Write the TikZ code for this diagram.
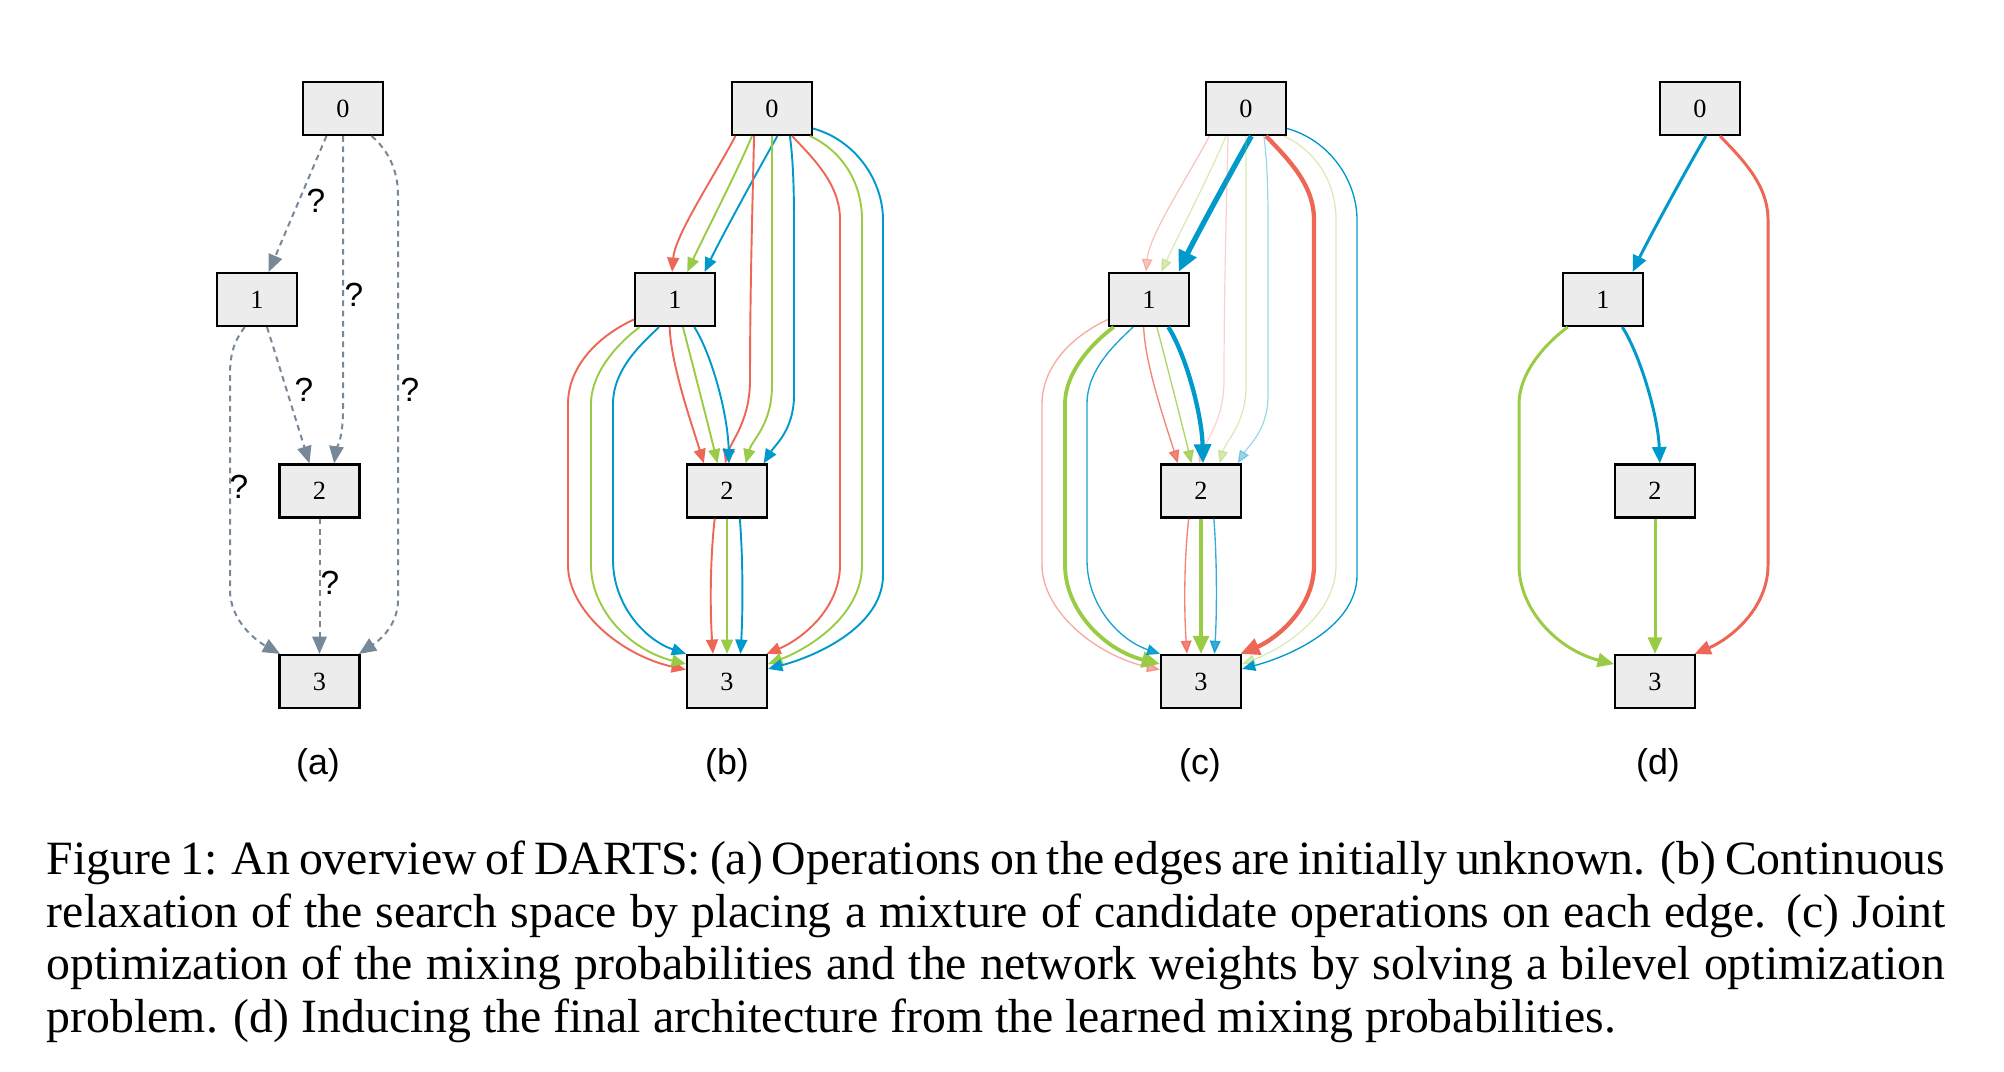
\documentclass[tikz,border=0pt]{standalone}
\usepackage{fontspec}
\setmainfont{Liberation Serif}
\setsansfont{Liberation Sans}
\usetikzlibrary{arrows.meta}

\definecolor{opred}{RGB}{238,102,85}
\definecolor{opgreen}{RGB}{153,204,68}
\definecolor{opblue}{RGB}{0,153,204}
\definecolor{qgray}{RGB}{119,136,153}
\definecolor{boxgray}{RGB}{236,236,236}

\tikzset{
    opnode/.style={draw, line width=0.45pt, fill=boxgray, minimum width=16.75pt, minimum height=11.1pt, inner sep=0pt, font=\fontsize{5.5}{6}\selectfont},
    opedge/.style={line width=0.4pt, -{Triangle[length=2.2pt 2, width=1.7pt 2]}},
    rop/.style={opedge, draw=opred},
    gop/.style={opedge, draw=opgreen},
    bop/.style={opedge, draw=opblue},
    weakop/.style={opacity=0.4, line width=0.25pt},
    lightop/.style={opacity=#1, line width=0.28pt},
    lightop/.default=0.8,
    strongop/.style={line width=#1},
    finalop/.style={line width=0.62pt},
    qedge/.style={draw=qgray, line width=0.42pt, dash pattern=on 1.2pt off 0.95pt, -{Triangle[length=3.6pt, width=3pt]}},
    qlabel/.style={font=\sffamily\fontsize{7}{8}\selectfont, inner sep=0pt},
    panellabel/.style={font=\sffamily\fontsize{7.5}{9}\selectfont, inner sep=0pt},
}

\begin{document}
\begin{tikzpicture}[x=0.2094pt, y=0.2094pt]
    \useasboundingbox (0,0) rectangle (2004,-1072);

    % (a)
    \node[opnode] (a0) at (343,-108.5) {0};
    \node[opnode] (a1) at (257,-299.5) {1};
    \node[opnode] (a2) at (319.5,-491) {2};
    \node[opnode] (a3) at (319.5,-681.5) {3};

    \draw[qedge] (a0.-121) -- (a1.67);
    \draw[qedge] (a0.-90) -- (343,-410) .. controls (343,-440) and (336,-450) .. (a2.62);
    \draw[qedge] (a0.-44) .. controls (388,-150) and (398,-170) .. (398,-195) -- (398,-600) .. controls (398,-625) and (380,-640) .. (a3.35);
    \draw[qedge] (a1.-70) -- (a2.110);
    \draw[qedge] (a1.-114) .. controls (235,-340) and (230,-352) .. (230,-375) -- (230,-590) .. controls (230,-620) and (255,-640) .. (a3.145);
    \draw[qedge] (a2.-90) -- (a3.90);

    \node[qlabel] (q01) at (316,-201) {?};
    \node[qlabel] (q02) at (354,-295) {?};
    \node[qlabel] (q03) at (410,-390) {?};
    \node[qlabel] (q12) at (304,-390) {?};
    \node[qlabel] (q13) at (239,-487) {?};
    \node[qlabel] (q23) at (330,-583) {?};

    \node[panellabel] (la) at (318,-765) {(a)};

    % (b)
    \node[opnode] (b0) at (772,-108.5) {0};
    \node[opnode] (b1) at (675,-299.5) {1};
    \node[opnode] (b2) at (727,-491) {2};
    \node[opnode] (b3) at (727,-681.5) {3};

    \draw[rop] (b0.-143) .. controls (715,-175) and (675,-235) .. (b1.96);
    \draw[gop] (b0.-126) .. controls (738,-170) and (702,-240) .. (b1.66);
    \draw[bop] (b0.-79) .. controls (758,-170) and (720,-240) .. (b1.43);

    \draw[rop] (b0.-123) .. controls (752,-220) and (750,-300) .. (750,-380) .. controls (750,-420) and (732,-440) .. (b2.94);
    \draw[gop] (b0.-90) -- (772,-385) .. controls (772,-425) and (752,-440) .. (b2.56);
    \draw[bop] (b0.-57) .. controls (793,-160) and (794,-185) .. (794,-225) -- (794,-395) .. controls (794,-430) and (775,-445) .. (b2.37);

    \draw[rop] (b0.-54) .. controls (815,-160) and (840,-185) .. (840,-220) -- (840,-565) .. controls (840,-610) and (800,-640) .. (b3.35);
    \draw[gop] (b0.-36) .. controls (840,-150) and (862,-180) .. (862,-220) -- (862,-565) .. controls (862,-615) and (810,-648) .. (b3.23);
    \draw[bop] (b0.-26) .. controls (855,-140) and (883,-180) .. (883,-220) -- (883,-575) .. controls (883,-625) and (820,-655) .. (b3.17);

    \draw[rop] (b1.-101) .. controls (671,-365) and (692,-425) .. (b2.130);
    \draw[gop] (b1.-74) .. controls (692,-362) and (709,-428) .. (b2.109);
    \draw[bop] (b1.-55) .. controls (712,-355) and (728,-415) .. (b2.86);

    \draw[rop] (b1.-154) .. controls (600,-335) and (568,-365) .. (568,-404) -- (568,-565) .. controls (568,-610) and (620,-655) .. (b3.164);
    \draw[gop] (b1.-142) .. controls (622,-340) and (591,-370) .. (591,-404) -- (591,-565) .. controls (591,-610) and (630,-650) .. (b3.157);
    \draw[bop] (b1.-120) .. controls (640,-345) and (613,-370) .. (613,-404) -- (613,-560) .. controls (613,-605) and (645,-640) .. (b3.146);

    \draw[rop] (b2.-114) .. controls (710,-560) and (710,-610) .. (b3.117);
    \draw[gop] (b2.-90) -- (b3.90);
    \draw[bop] (b2.-65) .. controls (743,-560) and (743,-610) .. (b3.64);

    \node[panellabel] (lb) at (727,-765) {(b)};

    % (c)
    \begin{scope}[shift={(474,0)}]
    \node[opnode] (c0) at (772,-108.5) {0};
    \node[opnode] (c1) at (675,-299.5) {1};
    \node[opnode] (c2) at (727,-491) {2};
    \node[opnode] (c3) at (727,-681.5) {3};

    \draw[rop, weakop] (c0.-143) .. controls (715,-175) and (675,-235) .. (c1.96);
    \draw[gop, weakop] (c0.-126) .. controls (738,-170) and (702,-240) .. (c1.66);
    \draw[bop, strongop=1.1pt] (c0.-79) .. controls (758,-170) and (720,-240) .. (c1.43);

    \draw[rop, weakop, opacity=0.3] (c0.-123) .. controls (752,-220) and (750,-300) .. (750,-380) .. controls (750,-420) and (732,-440) .. (c2.94);
    \draw[gop, weakop] (c0.-90) -- (772,-385) .. controls (772,-425) and (752,-440) .. (c2.56);
    \draw[bop, weakop] (c0.-57) .. controls (793,-160) and (794,-185) .. (794,-225) -- (794,-395) .. controls (794,-430) and (775,-445) .. (c2.37);

    \draw[rop, strongop=0.9pt] (c0.-54) .. controls (815,-160) and (840,-185) .. (840,-220) -- (840,-565) .. controls (840,-610) and (800,-640) .. (c3.35);
    \draw[gop, weakop] (c0.-36) .. controls (840,-150) and (862,-180) .. (862,-220) -- (862,-565) .. controls (862,-615) and (810,-648) .. (c3.23);
    \draw[bop, lightop=1] (c0.-26) .. controls (855,-140) and (883,-180) .. (883,-220) -- (883,-575) .. controls (883,-625) and (820,-655) .. (c3.17);

    \draw[rop, lightop] (c1.-101) .. controls (671,-365) and (692,-425) .. (c2.130);
    \draw[gop, lightop] (c1.-74) .. controls (692,-362) and (709,-428) .. (c2.109);
    \draw[bop, strongop=0.9pt] (c1.-55) .. controls (712,-355) and (728,-415) .. (c2.86);

    \draw[rop, lightop=0.55] (c1.-154) .. controls (600,-335) and (568,-365) .. (568,-404) -- (568,-565) .. controls (568,-610) and (620,-655) .. (c3.164);
    \draw[gop, strongop=0.8pt] (c1.-142) .. controls (622,-340) and (591,-370) .. (591,-404) -- (591,-565) .. controls (591,-610) and (630,-650) .. (c3.157);
    \draw[bop, lightop=0.9] (c1.-120) .. controls (640,-345) and (613,-370) .. (613,-404) -- (613,-560) .. controls (613,-605) and (645,-640) .. (c3.146);

    \draw[rop, lightop] (c2.-114) .. controls (710,-560) and (710,-610) .. (c3.117);
    \draw[gop, strongop=0.8pt] (c2.-90) -- (c3.90);
    \draw[bop, lightop] (c2.-65) .. controls (743,-560) and (743,-610) .. (c3.64);

    \node[panellabel] (lc) at (726,-765) {(c)};
    \end{scope}

    % (d)
    \begin{scope}[shift={(928,0)}]
    \node[opnode] (d0) at (772,-108.5) {0};
    \node[opnode] (d1) at (675,-299.5) {1};
    \node[opnode] (d2) at (727,-491) {2};
    \node[opnode] (d3) at (727,-681.5) {3};

    \draw[bop, finalop] (d0.-78) .. controls (758,-170) and (720,-240) .. (d1.43);
    \draw[rop, finalop] (d0.-54) .. controls (815,-160) and (840,-185) .. (840,-220) -- (840,-565) .. controls (840,-610) and (800,-640) .. (d3.35);
    \draw[bop, finalop] (d1.-55) .. controls (712,-355) and (730,-415) .. (d2.80);
    \draw[gop, finalop] (d1.-142) .. controls (622,-340) and (591,-370) .. (591,-404) -- (591,-565) .. controls (591,-610) and (630,-650) .. (d3.157);
    \draw[gop, finalop] (d2.-90) -- (d3.90);

    \node[panellabel] (ld) at (730,-765) {(d)};
    \end{scope}

    \node[anchor=north west, text width=397.5pt, align=justify, inner sep=0pt, font=\fontsize{10}{11}\selectfont] (caption) at (46,-840)
        {Figure 1: An overview of DARTS: (a) Operations on the edges are initially unknown. (b) Continuous relaxation of the search space by placing a mixture of candidate operations on each edge. (c) Joint optimization of the mixing probabilities and the network weights by solving a bilevel optimization problem. (d) Inducing the final architecture from the learned mixing probabilities.};
\end{tikzpicture}
\end{document}
